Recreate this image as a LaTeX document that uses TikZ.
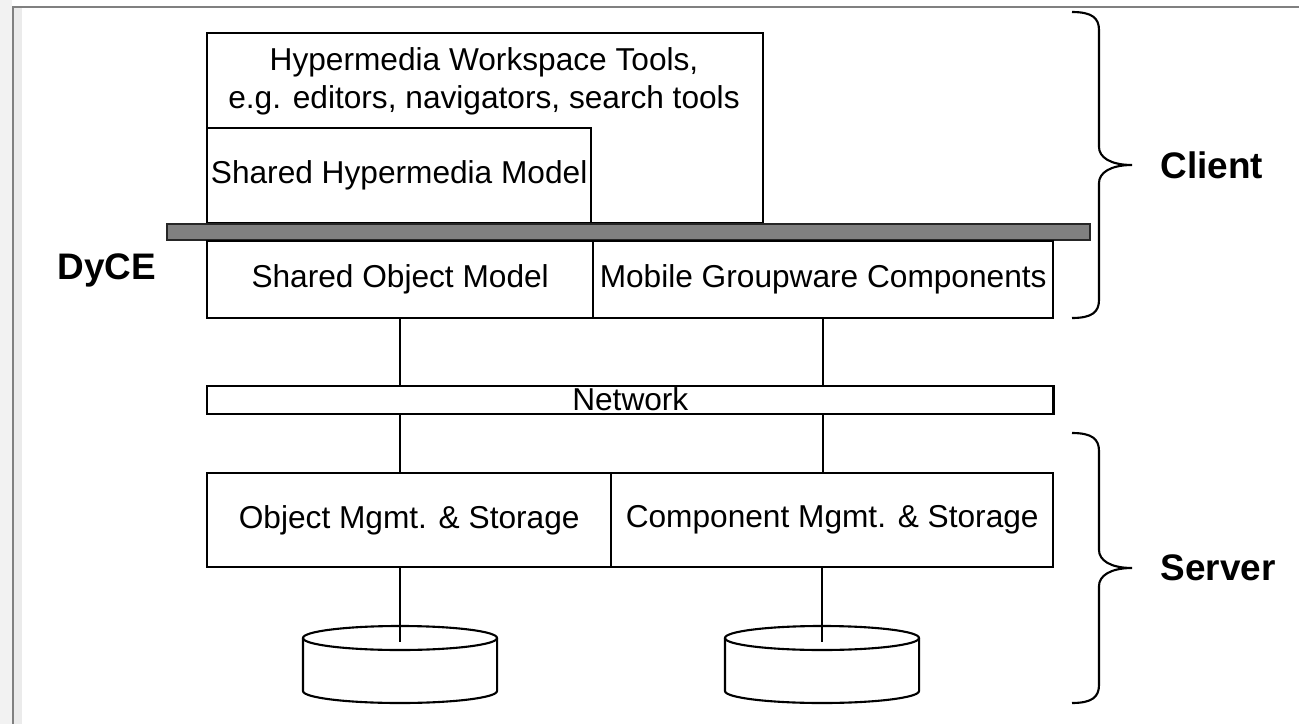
\documentclass[tikz,border=0pt]{standalone}
\usepackage{fontspec}
\setmainfont{Liberation Sans}
\usetikzlibrary{positioning}

\begin{document}
\begin{tikzpicture}[x=0.01cm, y=-0.01cm,
    blk/.style={draw, line width=0.6pt, inner sep=0pt, anchor=north west,
      font=\fontsize{9}{10.8}\selectfont},
    txt/.style={inner sep=0pt, align=center, font=\fontsize{9}{10.8}\selectfont},
    lbl/.style={inner sep=0pt, font=\fontsize{10.5}{12}\selectfont\bfseries},
    wire/.style={line width=0.6pt}]
  \useasboundingbox (0,0) rectangle (1299,724);

  % window frame
  \fill[black!5] (0,0) rectangle (12,724);
  \fill[black!8] (14,8) rectangle (22,724);
  \draw[black!50, line width=0.6pt] (13,724) -- (13,7) -- (1299,7);

  % client side
  \node[blk, minimum width=5.56cm, minimum height=1.90cm] (hwt) at (206,32) {};
  \node[txt] (hwtext) at (484,81) {Hypermedia Workspace Tools,\\e.g. editors, navigators, search tools};
  \node[blk, minimum width=3.84cm, minimum height=0.95cm] (shm) at (206,127) {Shared Hypermedia Model};

  % DyCE layer
  \draw[line width=0.6pt, draw=black!85, fill=black!50] (167,224) rectangle (1090,240);
  \node[blk, minimum width=3.86cm, minimum height=0.77cm] (som) at (206,240) {Shared Object Model};
  \node[blk, minimum width=4.60cm, minimum height=0.77cm] (mgc) at (592,240) {Mobile Groupware Components};
  \node[lbl] (dyce) at (107,270) {DyCE};

  % network
  \node[blk, minimum width=8.46cm, minimum height=0.28cm, text height=6.5pt, text depth=0.5pt] (net) at (206,385) {Network};
  \draw[wire] (som.south) -- (som.south |- net.north);
  \draw[wire] (mgc.south) -- (mgc.south |- net.north);

  % server side
  \node[blk, minimum width=4.04cm, minimum height=0.94cm] (oms) at (206,472) {Object Mgmt. \& Storage};
  \node[blk, minimum width=4.42cm, minimum height=0.94cm] (cms) at (610,472) {Component Mgmt. \& Storage};
  \draw[wire] (som.south |- net.south) -- (som.south |- oms.north);
  \draw[wire] (mgc.south |- net.south) -- (mgc.south |- cms.north);

  % data stores
  \coordinate (db1) at (400,638);
  \coordinate (db2) at (822,638);
  \foreach \d in {db1, db2} {
    \draw[wire] (\d) ellipse [x radius=0.97cm, y radius=0.12cm];
    \draw[wire] ([xshift=-0.97cm]\d) -- ++(0,53)
      arc[start angle=180, end angle=360, x radius=0.97cm, y radius=0.12cm]
      -- ([xshift=0.97cm]\d);
  }
  \draw[wire] (oms.south -| db1) -- ([yshift=-0.04cm]db1);
  \draw[wire] (cms.south -| db2) -- ([yshift=-0.04cm]db2);

  % braces (top / tip / bottom)
  \foreach \t/\m/\b in {12/165/318, 433/568/703} {
    \draw[wire] (1072,\t) .. controls (1092,\t) and (1099,{\t+6}) .. (1099,{\t+18})
      -- (1099,{\m-18}) .. controls (1099,{\m-8}) and (1110,\m) .. (1132,\m)
      .. controls (1110,\m) and (1099,{\m+8}) .. (1099,{\m+18})
      -- (1099,{\b-18}) .. controls (1099,{\b-6}) and (1092,\b) .. (1072,\b);
  }
  \node[lbl, anchor=west] (client) at (1160,165) {Client};
  \node[lbl, anchor=west] (server) at (1160,568) {Server};
\end{tikzpicture}
\end{document}
